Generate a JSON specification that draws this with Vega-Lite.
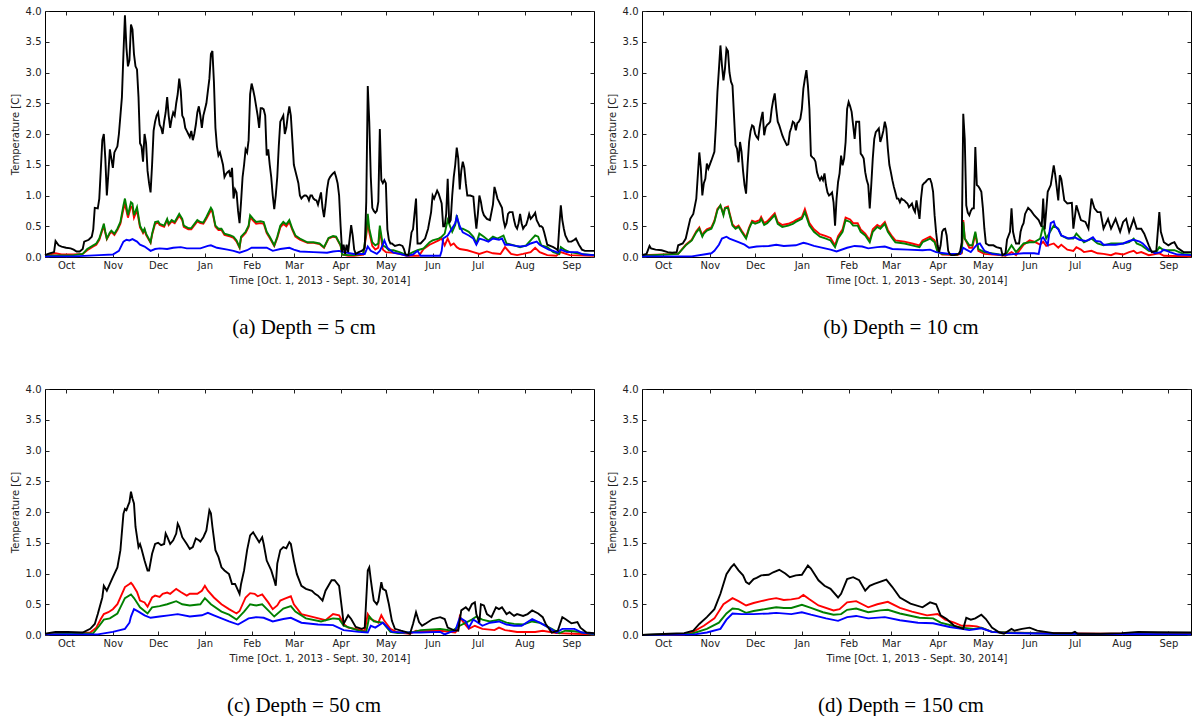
{
"$schema": "https://vega.github.io/schema/vega-lite/v6.json",
"background": "white",
"padding": {"left": 9, "top": 5, "right": 5, "bottom": 5},
"config": {
 "view": {"stroke": "black", "strokeWidth": 1},
 "axis": {"labelFont": "DejaVu Sans", "labelFontSize": 10, "titleFont": "DejaVu Sans", "titleFontSize": 10, "titleFontWeight": "normal", "labelColor": "#222222", "titleColor": "#222222", "domain": false, "grid": false, "tickColor": "#222222", "tickSize": -4},
 "title": {"font": "Liberation Serif", "fontSize": 21, "fontWeight": "normal", "color": "black", "orient": "bottom", "anchor": "middle", "frame": "bounds", "offset": 32},
 "line": {"strokeWidth": 1.9}
},
"datasets": {
"a_k": [{"t":"2013-10-01","v":0.03},{"t":"2013-10-04","v":0.06},{"t":"2013-10-07","v":0.08},{"t":"2013-10-08","v":0.26},{"t":"2013-10-10","v":0.19},{"t":"2013-10-12","v":0.17},{"t":"2013-10-15","v":0.15},{"t":"2013-10-18","v":0.14},{"t":"2013-10-20","v":0.12},{"t":"2013-10-22","v":0.09},{"t":"2013-10-24","v":0.09},{"t":"2013-10-26","v":0.13},{"t":"2013-10-27","v":0.25},{"t":"2013-10-30","v":0.28},{"t":"2013-11-01","v":0.33},{"t":"2013-11-02","v":0.45},{"t":"2013-11-03","v":0.8},{"t":"2013-11-05","v":0.79},{"t":"2013-11-06","v":0.95},{"t":"2013-11-08","v":1.9},{"t":"2013-11-09","v":2.0},{"t":"2013-11-10","v":1.6},{"t":"2013-11-11","v":1.0},{"t":"2013-11-12","v":1.35},{"t":"2013-11-13","v":1.75},{"t":"2013-11-14","v":1.6},{"t":"2013-11-15","v":1.45},{"t":"2013-11-16","v":1.7},{"t":"2013-11-18","v":1.8},{"t":"2013-11-19","v":2.0},{"t":"2013-11-20","v":2.3},{"t":"2013-11-21","v":2.6},{"t":"2013-11-22","v":3.3},{"t":"2013-11-23","v":3.93},{"t":"2013-11-24","v":3.4},{"t":"2013-11-25","v":3.1},{"t":"2013-11-26","v":3.2},{"t":"2013-11-27","v":3.78},{"t":"2013-11-28","v":3.7},{"t":"2013-11-29","v":3.3},{"t":"2013-11-30","v":3.1},{"t":"2013-12-01","v":3.05},{"t":"2013-12-02","v":2.6},{"t":"2013-12-03","v":1.85},{"t":"2013-12-04","v":1.8},{"t":"2013-12-05","v":1.55},{"t":"2013-12-06","v":2.0},{"t":"2013-12-07","v":1.85},{"t":"2013-12-08","v":1.4},{"t":"2013-12-09","v":1.2},{"t":"2013-12-10","v":1.05},{"t":"2013-12-11","v":1.5},{"t":"2013-12-12","v":2.05},{"t":"2013-12-13","v":2.2},{"t":"2013-12-14","v":2.3},{"t":"2013-12-15","v":2.35},{"t":"2013-12-16","v":2.15},{"t":"2013-12-17","v":2.1},{"t":"2013-12-18","v":2.0},{"t":"2013-12-19","v":2.2},{"t":"2013-12-20","v":2.35},{"t":"2013-12-21","v":2.6},{"t":"2013-12-22","v":2.3},{"t":"2013-12-23","v":2.1},{"t":"2013-12-24","v":2.25},{"t":"2013-12-25","v":2.35},{"t":"2013-12-26","v":2.3},{"t":"2013-12-27","v":2.5},{"t":"2013-12-28","v":2.65},{"t":"2013-12-29","v":2.9},{"t":"2013-12-30","v":2.7},{"t":"2013-12-31","v":2.3},{"t":"2014-01-01","v":2.25},{"t":"2014-01-02","v":2.1},{"t":"2014-01-03","v":2.05},{"t":"2014-01-04","v":2.0},{"t":"2014-01-05","v":1.95},{"t":"2014-01-06","v":2.05},{"t":"2014-01-07","v":1.9},{"t":"2014-01-08","v":2.0},{"t":"2014-01-09","v":2.15},{"t":"2014-01-10","v":2.35},{"t":"2014-01-11","v":2.45},{"t":"2014-01-12","v":2.3},{"t":"2014-01-13","v":2.1},{"t":"2014-01-14","v":2.3},{"t":"2014-01-15","v":2.4},{"t":"2014-01-16","v":2.5},{"t":"2014-01-17","v":2.7},{"t":"2014-01-18","v":2.9},{"t":"2014-01-19","v":3.3},{"t":"2014-01-20","v":3.35},{"t":"2014-01-21","v":2.85},{"t":"2014-01-22","v":2.1},{"t":"2014-01-23","v":1.8},{"t":"2014-01-24","v":1.65},{"t":"2014-01-25","v":1.7},{"t":"2014-01-26","v":1.6},{"t":"2014-01-27","v":1.5},{"t":"2014-01-28","v":1.3},{"t":"2014-01-29","v":1.35},{"t":"2014-01-30","v":1.38},{"t":"2014-01-31","v":1.4},{"t":"2014-02-01","v":1.3},{"t":"2014-02-02","v":1.45},{"t":"2014-02-03","v":0.95},{"t":"2014-02-04","v":1.1},{"t":"2014-02-05","v":1.05},{"t":"2014-02-06","v":0.75},{"t":"2014-02-07","v":0.55},{"t":"2014-02-08","v":0.9},{"t":"2014-02-09","v":1.3},{"t":"2014-02-10","v":1.5},{"t":"2014-02-11","v":1.75},{"t":"2014-02-12","v":1.7},{"t":"2014-02-13","v":1.9},{"t":"2014-02-14","v":2.65},{"t":"2014-02-15","v":2.82},{"t":"2014-02-16","v":2.72},{"t":"2014-02-17","v":2.6},{"t":"2014-02-18","v":2.45},{"t":"2014-02-19","v":2.3},{"t":"2014-02-20","v":2.1},{"t":"2014-02-21","v":2.42},{"t":"2014-02-22","v":2.42},{"t":"2014-02-23","v":2.4},{"t":"2014-02-24","v":2.3},{"t":"2014-02-25","v":1.65},{"t":"2014-02-26","v":1.75},{"t":"2014-02-27","v":1.5},{"t":"2014-02-28","v":1.3},{"t":"2014-03-01","v":1.0},{"t":"2014-03-02","v":0.78},{"t":"2014-03-03","v":1.0},{"t":"2014-03-04","v":1.3},{"t":"2014-03-05","v":1.8},{"t":"2014-03-06","v":2.2},{"t":"2014-03-07","v":2.25},{"t":"2014-03-08","v":2.3},{"t":"2014-03-09","v":2.0},{"t":"2014-03-10","v":2.1},{"t":"2014-03-11","v":2.3},{"t":"2014-03-12","v":2.45},{"t":"2014-03-13","v":2.3},{"t":"2014-03-14","v":1.9},{"t":"2014-03-15","v":1.5},{"t":"2014-03-16","v":1.4},{"t":"2014-03-17","v":1.3},{"t":"2014-03-18","v":1.2},{"t":"2014-03-19","v":1.0},{"t":"2014-03-20","v":0.95},{"t":"2014-03-21","v":0.98},{"t":"2014-03-22","v":1.0},{"t":"2014-03-23","v":1.0},{"t":"2014-03-24","v":0.98},{"t":"2014-03-25","v":0.92},{"t":"2014-03-26","v":1.0},{"t":"2014-03-27","v":1.0},{"t":"2014-03-28","v":0.95},{"t":"2014-03-29","v":0.93},{"t":"2014-03-30","v":0.92},{"t":"2014-03-31","v":0.85},{"t":"2014-04-01","v":0.95},{"t":"2014-04-02","v":1.05},{"t":"2014-04-03","v":0.8},{"t":"2014-04-04","v":0.65},{"t":"2014-04-05","v":0.85},{"t":"2014-04-06","v":1.1},{"t":"2014-04-07","v":1.25},{"t":"2014-04-08","v":1.3},{"t":"2014-04-09","v":1.33},{"t":"2014-04-10","v":1.36},{"t":"2014-04-11","v":1.38},{"t":"2014-04-12","v":1.3},{"t":"2014-04-13","v":1.2},{"t":"2014-04-14","v":1.0},{"t":"2014-04-15","v":0.5},{"t":"2014-04-16","v":0.08},{"t":"2014-04-17","v":0.2},{"t":"2014-04-18","v":0.05},{"t":"2014-04-19","v":0.2},{"t":"2014-04-20","v":0.08},{"t":"2014-04-21","v":0.3},{"t":"2014-04-22","v":0.52},{"t":"2014-04-23","v":0.35},{"t":"2014-04-24","v":0.12},{"t":"2014-04-25","v":0.05},{"t":"2014-04-27","v":0.08},{"t":"2014-04-29","v":0.1},{"t":"2014-04-30","v":0.12},{"t":"2014-05-01","v":0.15},{"t":"2014-05-02","v":0.9},{"t":"2014-05-03","v":2.78},{"t":"2014-05-04","v":2.2},{"t":"2014-05-05","v":1.3},{"t":"2014-05-06","v":0.8},{"t":"2014-05-07","v":0.75},{"t":"2014-05-08","v":0.72},{"t":"2014-05-09","v":0.75},{"t":"2014-05-10","v":0.9},{"t":"2014-05-11","v":2.08},{"t":"2014-05-12","v":1.25},{"t":"2014-05-13","v":1.2},{"t":"2014-05-14","v":1.25},{"t":"2014-05-15","v":1.2},{"t":"2014-05-16","v":0.45},{"t":"2014-05-17","v":0.28},{"t":"2014-05-18","v":0.22},{"t":"2014-05-19","v":0.22},{"t":"2014-05-21","v":0.18},{"t":"2014-05-24","v":0.2},{"t":"2014-05-26","v":0.18},{"t":"2014-05-27","v":0.13},{"t":"2014-05-28","v":0.04},{"t":"2014-05-30","v":0.03},{"t":"2014-05-31","v":0.2},{"t":"2014-06-01","v":0.4},{"t":"2014-06-02","v":0.45},{"t":"2014-06-03","v":0.7},{"t":"2014-06-04","v":0.95},{"t":"2014-06-05","v":0.22},{"t":"2014-06-07","v":0.22},{"t":"2014-06-10","v":0.3},{"t":"2014-06-12","v":0.46},{"t":"2014-06-14","v":0.73},{"t":"2014-06-15","v":1.0},{"t":"2014-06-16","v":0.95},{"t":"2014-06-18","v":1.08},{"t":"2014-06-19","v":1.03},{"t":"2014-06-20","v":0.95},{"t":"2014-06-21","v":0.87},{"t":"2014-06-22","v":0.5},{"t":"2014-06-23","v":0.5},{"t":"2014-06-24","v":0.7},{"t":"2014-06-25","v":1.27},{"t":"2014-06-26","v":0.55},{"t":"2014-06-27","v":0.6},{"t":"2014-06-28","v":1.0},{"t":"2014-06-29","v":1.3},{"t":"2014-06-30","v":1.5},{"t":"2014-07-01","v":1.78},{"t":"2014-07-02","v":1.6},{"t":"2014-07-03","v":1.1},{"t":"2014-07-04","v":1.4},{"t":"2014-07-05","v":1.55},{"t":"2014-07-06","v":1.45},{"t":"2014-07-07","v":1.2},{"t":"2014-07-08","v":1.0},{"t":"2014-07-10","v":1.0},{"t":"2014-07-12","v":0.98},{"t":"2014-07-13","v":0.7},{"t":"2014-07-14","v":0.46},{"t":"2014-07-15","v":0.7},{"t":"2014-07-16","v":1.0},{"t":"2014-07-17","v":0.9},{"t":"2014-07-18","v":0.75},{"t":"2014-07-19","v":0.68},{"t":"2014-07-21","v":0.62},{"t":"2014-07-23","v":0.6},{"t":"2014-07-25","v":0.85},{"t":"2014-07-26","v":1.14},{"t":"2014-07-27","v":1.05},{"t":"2014-07-28","v":0.95},{"t":"2014-07-29","v":0.9},{"t":"2014-07-30","v":0.85},{"t":"2014-07-31","v":0.8},{"t":"2014-08-01","v":0.6},{"t":"2014-08-02","v":0.49},{"t":"2014-08-03","v":0.55},{"t":"2014-08-04","v":0.7},{"t":"2014-08-05","v":0.73},{"t":"2014-08-07","v":0.73},{"t":"2014-08-08","v":0.6},{"t":"2014-08-09","v":0.5},{"t":"2014-08-10","v":0.46},{"t":"2014-08-11","v":0.55},{"t":"2014-08-12","v":0.7},{"t":"2014-08-13","v":0.55},{"t":"2014-08-14","v":0.46},{"t":"2014-08-15","v":0.5},{"t":"2014-08-16","v":0.52},{"t":"2014-08-17","v":0.6},{"t":"2014-08-18","v":0.7},{"t":"2014-08-19","v":0.62},{"t":"2014-08-20","v":0.65},{"t":"2014-08-21","v":0.68},{"t":"2014-08-22","v":0.72},{"t":"2014-08-23","v":0.6},{"t":"2014-08-24","v":0.55},{"t":"2014-08-25","v":0.5},{"t":"2014-08-26","v":0.5},{"t":"2014-08-27","v":0.48},{"t":"2014-08-28","v":0.4},{"t":"2014-08-29","v":0.3},{"t":"2014-08-30","v":0.2},{"t":"2014-09-01","v":0.18},{"t":"2014-09-03","v":0.16},{"t":"2014-09-05","v":0.13},{"t":"2014-09-06","v":0.11},{"t":"2014-09-07","v":0.5},{"t":"2014-09-08","v":0.84},{"t":"2014-09-09","v":0.6},{"t":"2014-09-10","v":0.46},{"t":"2014-09-11","v":0.35},{"t":"2014-09-13","v":0.25},{"t":"2014-09-15","v":0.25},{"t":"2014-09-17","v":0.28},{"t":"2014-09-18","v":0.3},{"t":"2014-09-20","v":0.2},{"t":"2014-09-22","v":0.12},{"t":"2014-09-24","v":0.1},{"t":"2014-09-30","v":0.1}],
"a_r": [{"t":"2013-10-01","v":0.03},{"t":"2013-10-08","v":0.06},{"t":"2013-10-12","v":0.04},{"t":"2013-10-20","v":0.04},{"t":"2013-10-26","v":0.05},{"t":"2013-10-29","v":0.11},{"t":"2013-11-02","v":0.17},{"t":"2013-11-04","v":0.2},{"t":"2013-11-06","v":0.28},{"t":"2013-11-08","v":0.43},{"t":"2013-11-09","v":0.5},{"t":"2013-11-10","v":0.39},{"t":"2013-11-11","v":0.29},{"t":"2013-11-13","v":0.38},{"t":"2013-11-14","v":0.41},{"t":"2013-11-16","v":0.36},{"t":"2013-11-18","v":0.44},{"t":"2013-11-20","v":0.54},{"t":"2013-11-22","v":0.78},{"t":"2013-11-23","v":0.86},{"t":"2013-11-25","v":0.64},{"t":"2013-11-27","v":0.82},{"t":"2013-11-28","v":0.8},{"t":"2013-11-29","v":0.64},{"t":"2013-12-01","v":0.76},{"t":"2013-12-03","v":0.48},{"t":"2013-12-04","v":0.44},{"t":"2013-12-05","v":0.39},{"t":"2013-12-06","v":0.44},{"t":"2013-12-07","v":0.36},{"t":"2013-12-10","v":0.23},{"t":"2013-12-11","v":0.36},{"t":"2013-12-13","v":0.54},{"t":"2013-12-15","v":0.56},{"t":"2013-12-16","v":0.52},{"t":"2013-12-19","v":0.49},{"t":"2013-12-21","v":0.6},{"t":"2013-12-22","v":0.52},{"t":"2013-12-24","v":0.58},{"t":"2013-12-26","v":0.55},{"t":"2013-12-29","v":0.67},{"t":"2013-12-31","v":0.6},{"t":"2014-01-01","v":0.49},{"t":"2014-01-04","v":0.45},{"t":"2014-01-06","v":0.45},{"t":"2014-01-10","v":0.58},{"t":"2014-01-12","v":0.55},{"t":"2014-01-14","v":0.54},{"t":"2014-01-16","v":0.62},{"t":"2014-01-19","v":0.76},{"t":"2014-01-20","v":0.73},{"t":"2014-01-22","v":0.49},{"t":"2014-01-24","v":0.44},{"t":"2014-01-26","v":0.44},{"t":"2014-01-28","v":0.36},{"t":"2014-02-01","v":0.33},{"t":"2014-02-03","v":0.31},{"t":"2014-02-05","v":0.25},{"t":"2014-02-07","v":0.15},{"t":"2014-02-08","v":0.31},{"t":"2014-02-11","v":0.39},{"t":"2014-02-13","v":0.49},{"t":"2014-02-14","v":0.65},{"t":"2014-02-16","v":0.59},{"t":"2014-02-18","v":0.54},{"t":"2014-02-21","v":0.55},{"t":"2014-02-23","v":0.54},{"t":"2014-02-25","v":0.39},{"t":"2014-02-27","v":0.31},{"t":"2014-03-02","v":0.18},{"t":"2014-03-04","v":0.31},{"t":"2014-03-06","v":0.48},{"t":"2014-03-08","v":0.54},{"t":"2014-03-10","v":0.5},{"t":"2014-03-12","v":0.57},{"t":"2014-03-14","v":0.44},{"t":"2014-03-16","v":0.33},{"t":"2014-03-19","v":0.28},{"t":"2014-03-24","v":0.23},{"t":"2014-03-28","v":0.23},{"t":"2014-04-01","v":0.21},{"t":"2014-04-04","v":0.15},{"t":"2014-04-07","v":0.3},{"t":"2014-04-10","v":0.33},{"t":"2014-04-12","v":0.32},{"t":"2014-04-15","v":0.18},{"t":"2014-04-16","v":0.04},{"t":"2014-04-20","v":0.02},{"t":"2014-04-24","v":0.02},{"t":"2014-04-30","v":0.04},{"t":"2014-05-02","v":0.35},{"t":"2014-05-03","v":0.58},{"t":"2014-05-04","v":0.4},{"t":"2014-05-06","v":0.18},{"t":"2014-05-08","v":0.12},{"t":"2014-05-10","v":0.15},{"t":"2014-05-11","v":0.45},{"t":"2014-05-13","v":0.12},{"t":"2014-05-15","v":0.08},{"t":"2014-05-20","v":0.07},{"t":"2014-05-24","v":0.05},{"t":"2014-05-29","v":0.02},{"t":"2014-06-02","v":0.02},{"t":"2014-06-06","v":0.02},{"t":"2014-06-09","v":0.13},{"t":"2014-06-13","v":0.2},{"t":"2014-06-19","v":0.27},{"t":"2014-06-21","v":0.3},{"t":"2014-06-23","v":0.19},{"t":"2014-06-25","v":0.3},{"t":"2014-06-27","v":0.19},{"t":"2014-06-29","v":0.22},{"t":"2014-07-01","v":0.16},{"t":"2014-07-03","v":0.13},{"t":"2014-07-08","v":0.11},{"t":"2014-07-12","v":0.08},{"t":"2014-07-16","v":0.05},{"t":"2014-07-21","v":0.09},{"t":"2014-07-25","v":0.06},{"t":"2014-07-30","v":0.05},{"t":"2014-08-02","v":0.16},{"t":"2014-08-06","v":0.05},{"t":"2014-08-10","v":0.03},{"t":"2014-08-14","v":0.05},{"t":"2014-08-19","v":0.08},{"t":"2014-08-22","v":0.15},{"t":"2014-08-25","v":0.08},{"t":"2014-08-30","v":0.03},{"t":"2014-09-05","v":0.02},{"t":"2014-09-08","v":0.08},{"t":"2014-09-14","v":0.03},{"t":"2014-09-30","v":0.02}],
"a_g": [{"t":"2013-10-01","v":0.02},{"t":"2013-10-20","v":0.03},{"t":"2013-10-26","v":0.05},{"t":"2013-10-29","v":0.13},{"t":"2013-11-02","v":0.19},{"t":"2013-11-04","v":0.22},{"t":"2013-11-06","v":0.3},{"t":"2013-11-08","v":0.46},{"t":"2013-11-09","v":0.54},{"t":"2013-11-10","v":0.41},{"t":"2013-11-11","v":0.3},{"t":"2013-11-13","v":0.4},{"t":"2013-11-14","v":0.43},{"t":"2013-11-16","v":0.38},{"t":"2013-11-18","v":0.46},{"t":"2013-11-20","v":0.57},{"t":"2013-11-22","v":0.84},{"t":"2013-11-23","v":0.95},{"t":"2013-11-25","v":0.68},{"t":"2013-11-27","v":0.89},{"t":"2013-11-28","v":0.87},{"t":"2013-11-29","v":0.68},{"t":"2013-12-01","v":0.81},{"t":"2013-12-03","v":0.51},{"t":"2013-12-04","v":0.46},{"t":"2013-12-05","v":0.41},{"t":"2013-12-06","v":0.46},{"t":"2013-12-07","v":0.38},{"t":"2013-12-10","v":0.24},{"t":"2013-12-11","v":0.38},{"t":"2013-12-13","v":0.57},{"t":"2013-12-15","v":0.58},{"t":"2013-12-16","v":0.54},{"t":"2013-12-19","v":0.51},{"t":"2013-12-21","v":0.62},{"t":"2013-12-22","v":0.54},{"t":"2013-12-24","v":0.6},{"t":"2013-12-26","v":0.57},{"t":"2013-12-29","v":0.7},{"t":"2013-12-31","v":0.62},{"t":"2014-01-01","v":0.51},{"t":"2014-01-04","v":0.47},{"t":"2014-01-06","v":0.47},{"t":"2014-01-10","v":0.6},{"t":"2014-01-12","v":0.57},{"t":"2014-01-14","v":0.56},{"t":"2014-01-16","v":0.65},{"t":"2014-01-19","v":0.8},{"t":"2014-01-20","v":0.76},{"t":"2014-01-22","v":0.51},{"t":"2014-01-24","v":0.46},{"t":"2014-01-26","v":0.46},{"t":"2014-01-28","v":0.38},{"t":"2014-02-01","v":0.35},{"t":"2014-02-03","v":0.33},{"t":"2014-02-05","v":0.27},{"t":"2014-02-07","v":0.16},{"t":"2014-02-08","v":0.33},{"t":"2014-02-11","v":0.41},{"t":"2014-02-13","v":0.51},{"t":"2014-02-14","v":0.68},{"t":"2014-02-16","v":0.62},{"t":"2014-02-18","v":0.57},{"t":"2014-02-21","v":0.58},{"t":"2014-02-23","v":0.57},{"t":"2014-02-25","v":0.41},{"t":"2014-02-27","v":0.33},{"t":"2014-03-02","v":0.19},{"t":"2014-03-04","v":0.33},{"t":"2014-03-06","v":0.51},{"t":"2014-03-08","v":0.57},{"t":"2014-03-10","v":0.53},{"t":"2014-03-12","v":0.6},{"t":"2014-03-14","v":0.46},{"t":"2014-03-16","v":0.35},{"t":"2014-03-19","v":0.3},{"t":"2014-03-24","v":0.24},{"t":"2014-03-28","v":0.24},{"t":"2014-04-01","v":0.22},{"t":"2014-04-04","v":0.16},{"t":"2014-04-07","v":0.31},{"t":"2014-04-10","v":0.34},{"t":"2014-04-12","v":0.33},{"t":"2014-04-15","v":0.19},{"t":"2014-04-16","v":0.04},{"t":"2014-04-20","v":0.03},{"t":"2014-04-24","v":0.03},{"t":"2014-04-30","v":0.05},{"t":"2014-05-02","v":0.41},{"t":"2014-05-03","v":0.7},{"t":"2014-05-04","v":0.46},{"t":"2014-05-06","v":0.24},{"t":"2014-05-08","v":0.19},{"t":"2014-05-10","v":0.22},{"t":"2014-05-11","v":0.51},{"t":"2014-05-13","v":0.19},{"t":"2014-05-15","v":0.16},{"t":"2014-05-17","v":0.11},{"t":"2014-05-20","v":0.11},{"t":"2014-05-24","v":0.08},{"t":"2014-05-29","v":0.03},{"t":"2014-06-02","v":0.08},{"t":"2014-06-05","v":0.11},{"t":"2014-06-09","v":0.14},{"t":"2014-06-13","v":0.24},{"t":"2014-06-15","v":0.27},{"t":"2014-06-19","v":0.3},{"t":"2014-06-21","v":0.33},{"t":"2014-06-23","v":0.38},{"t":"2014-06-25","v":0.6},{"t":"2014-06-28","v":0.41},{"t":"2014-06-30","v":0.52},{"t":"2014-07-01","v":0.68},{"t":"2014-07-03","v":0.46},{"t":"2014-07-05","v":0.46},{"t":"2014-07-09","v":0.41},{"t":"2014-07-12","v":0.33},{"t":"2014-07-14","v":0.22},{"t":"2014-07-16","v":0.38},{"t":"2014-07-19","v":0.33},{"t":"2014-07-22","v":0.27},{"t":"2014-07-25","v":0.33},{"t":"2014-07-28","v":0.3},{"t":"2014-08-01","v":0.35},{"t":"2014-08-03","v":0.22},{"t":"2014-08-08","v":0.19},{"t":"2014-08-12","v":0.16},{"t":"2014-08-16","v":0.19},{"t":"2014-08-20","v":0.3},{"t":"2014-08-22","v":0.35},{"t":"2014-08-24","v":0.33},{"t":"2014-08-26","v":0.19},{"t":"2014-08-30","v":0.16},{"t":"2014-09-03","v":0.08},{"t":"2014-09-07","v":0.05},{"t":"2014-09-08","v":0.16},{"t":"2014-09-11","v":0.11},{"t":"2014-09-14","v":0.08},{"t":"2014-09-21","v":0.05},{"t":"2014-09-30","v":0.03}],
"a_b": [{"t":"2013-10-01","v":0.01},{"t":"2013-10-20","v":0.01},{"t":"2013-11-06","v":0.03},{"t":"2013-11-15","v":0.04},{"t":"2013-11-19","v":0.1},{"t":"2013-11-22","v":0.25},{"t":"2013-11-24","v":0.28},{"t":"2013-11-26","v":0.27},{"t":"2013-11-28","v":0.29},{"t":"2013-12-01","v":0.25},{"t":"2013-12-03","v":0.2},{"t":"2013-12-06","v":0.17},{"t":"2013-12-10","v":0.1},{"t":"2013-12-13","v":0.13},{"t":"2013-12-16","v":0.14},{"t":"2013-12-21","v":0.13},{"t":"2013-12-25","v":0.15},{"t":"2013-12-30","v":0.16},{"t":"2014-01-03","v":0.14},{"t":"2014-01-12","v":0.14},{"t":"2014-01-17","v":0.18},{"t":"2014-01-19","v":0.19},{"t":"2014-01-23","v":0.15},{"t":"2014-01-30","v":0.12},{"t":"2014-02-03","v":0.1},{"t":"2014-02-07","v":0.07},{"t":"2014-02-12","v":0.11},{"t":"2014-02-15","v":0.15},{"t":"2014-02-21","v":0.15},{"t":"2014-02-25","v":0.15},{"t":"2014-03-01","v":0.1},{"t":"2014-03-06","v":0.13},{"t":"2014-03-12","v":0.15},{"t":"2014-03-15","v":0.12},{"t":"2014-03-19","v":0.09},{"t":"2014-03-28","v":0.08},{"t":"2014-04-06","v":0.07},{"t":"2014-04-10","v":0.09},{"t":"2014-04-14","v":0.1},{"t":"2014-04-17","v":0.08},{"t":"2014-04-24","v":0.05},{"t":"2014-05-01","v":0.05},{"t":"2014-05-03","v":0.17},{"t":"2014-05-05","v":0.1},{"t":"2014-05-09","v":0.05},{"t":"2014-05-11","v":0.1},{"t":"2014-05-13","v":0.2},{"t":"2014-05-14","v":0.27},{"t":"2014-05-16","v":0.15},{"t":"2014-05-20","v":0.07},{"t":"2014-05-24","v":0.05},{"t":"2014-05-29","v":0.02},{"t":"2014-06-02","v":0.04},{"t":"2014-06-05","v":0.1},{"t":"2014-06-07","v":0.02},{"t":"2014-06-13","v":0.02},{"t":"2014-06-20","v":0.02},{"t":"2014-06-21","v":0.1},{"t":"2014-06-22","v":0.3},{"t":"2014-06-25","v":0.35},{"t":"2014-06-30","v":0.55},{"t":"2014-07-01","v":0.65},{"t":"2014-07-03","v":0.5},{"t":"2014-07-05","v":0.4},{"t":"2014-07-09","v":0.35},{"t":"2014-07-12","v":0.3},{"t":"2014-07-14","v":0.2},{"t":"2014-07-16","v":0.3},{"t":"2014-07-19","v":0.28},{"t":"2014-07-22","v":0.25},{"t":"2014-07-25","v":0.3},{"t":"2014-07-29","v":0.28},{"t":"2014-07-31","v":0.3},{"t":"2014-08-02","v":0.2},{"t":"2014-08-05","v":0.2},{"t":"2014-08-09","v":0.18},{"t":"2014-08-12","v":0.17},{"t":"2014-08-16","v":0.18},{"t":"2014-08-19","v":0.22},{"t":"2014-08-23","v":0.25},{"t":"2014-08-25","v":0.2},{"t":"2014-08-27","v":0.17},{"t":"2014-08-31","v":0.12},{"t":"2014-09-03","v":0.1},{"t":"2014-09-06","v":0.07},{"t":"2014-09-08","v":0.12},{"t":"2014-09-12","v":0.08},{"t":"2014-09-19","v":0.08},{"t":"2014-09-23","v":0.04},{"t":"2014-09-30","v":0.03}],
"b_k": [{"t":"2013-10-01","v":0.03},{"t":"2013-10-04","v":0.05},{"t":"2013-10-06","v":0.18},{"t":"2013-10-07","v":0.14},{"t":"2013-10-10","v":0.12},{"t":"2013-10-14","v":0.11},{"t":"2013-10-18","v":0.08},{"t":"2013-10-21","v":0.07},{"t":"2013-10-24","v":0.08},{"t":"2013-10-25","v":0.19},{"t":"2013-10-28","v":0.22},{"t":"2013-10-30","v":0.3},{"t":"2013-11-02","v":0.62},{"t":"2013-11-04","v":0.7},{"t":"2013-11-06","v":0.95},{"t":"2013-11-08","v":1.7},{"t":"2013-11-09","v":1.45},{"t":"2013-11-10","v":1.0},{"t":"2013-11-11","v":1.2},{"t":"2013-11-12","v":1.27},{"t":"2013-11-13","v":1.52},{"t":"2013-11-14","v":1.44},{"t":"2013-11-16","v":1.57},{"t":"2013-11-18","v":1.71},{"t":"2013-11-19","v":2.14},{"t":"2013-11-20","v":2.68},{"t":"2013-11-21","v":3.05},{"t":"2013-11-22","v":3.44},{"t":"2013-11-23","v":3.12},{"t":"2013-11-24","v":2.87},{"t":"2013-11-25","v":3.06},{"t":"2013-11-26","v":3.39},{"t":"2013-11-27","v":3.35},{"t":"2013-11-28","v":3.0},{"t":"2013-11-29","v":2.85},{"t":"2013-11-30","v":2.79},{"t":"2013-12-01","v":2.3},{"t":"2013-12-02","v":1.82},{"t":"2013-12-03","v":1.76},{"t":"2013-12-04","v":1.54},{"t":"2013-12-05","v":1.87},{"t":"2013-12-06","v":1.71},{"t":"2013-12-07","v":1.4},{"t":"2013-12-08","v":1.17},{"t":"2013-12-09","v":1.03},{"t":"2013-12-10","v":1.49},{"t":"2013-12-11","v":1.87},{"t":"2013-12-12","v":2.05},{"t":"2013-12-13","v":2.14},{"t":"2013-12-14","v":2.12},{"t":"2013-12-15","v":2.0},{"t":"2013-12-16","v":1.95},{"t":"2013-12-17","v":1.92},{"t":"2013-12-18","v":2.11},{"t":"2013-12-19","v":2.25},{"t":"2013-12-20","v":2.36},{"t":"2013-12-21","v":1.98},{"t":"2013-12-22","v":2.11},{"t":"2013-12-23","v":2.15},{"t":"2013-12-24","v":2.17},{"t":"2013-12-25","v":2.2},{"t":"2013-12-26","v":2.41},{"t":"2013-12-27","v":2.55},{"t":"2013-12-28","v":2.66},{"t":"2013-12-29","v":2.41},{"t":"2013-12-30","v":2.2},{"t":"2013-12-31","v":2.14},{"t":"2014-01-01","v":2.06},{"t":"2014-01-02","v":1.98},{"t":"2014-01-03","v":1.92},{"t":"2014-01-05","v":1.82},{"t":"2014-01-06","v":1.83},{"t":"2014-01-07","v":2.03},{"t":"2014-01-08","v":2.1},{"t":"2014-01-09","v":2.2},{"t":"2014-01-10","v":2.18},{"t":"2014-01-11","v":2.06},{"t":"2014-01-12","v":2.18},{"t":"2014-01-13","v":2.2},{"t":"2014-01-14","v":2.25},{"t":"2014-01-15","v":2.41},{"t":"2014-01-16","v":2.74},{"t":"2014-01-17","v":2.9},{"t":"2014-01-18","v":3.04},{"t":"2014-01-19","v":2.79},{"t":"2014-01-20","v":2.41},{"t":"2014-01-21","v":1.65},{"t":"2014-01-22","v":1.62},{"t":"2014-01-23","v":1.6},{"t":"2014-01-24","v":1.55},{"t":"2014-01-25","v":1.38},{"t":"2014-01-26","v":1.3},{"t":"2014-01-27","v":1.25},{"t":"2014-01-28","v":1.3},{"t":"2014-01-29","v":1.25},{"t":"2014-01-30","v":1.36},{"t":"2014-01-31","v":1.17},{"t":"2014-02-01","v":1.05},{"t":"2014-02-02","v":1.0},{"t":"2014-02-03","v":1.02},{"t":"2014-02-04","v":1.05},{"t":"2014-02-05","v":0.89},{"t":"2014-02-06","v":0.51},{"t":"2014-02-07","v":0.95},{"t":"2014-02-08","v":1.22},{"t":"2014-02-09","v":1.36},{"t":"2014-02-10","v":1.65},{"t":"2014-02-11","v":1.49},{"t":"2014-02-12","v":1.6},{"t":"2014-02-13","v":1.87},{"t":"2014-02-14","v":2.41},{"t":"2014-02-15","v":2.52},{"t":"2014-02-16","v":2.45},{"t":"2014-02-17","v":2.36},{"t":"2014-02-18","v":2.14},{"t":"2014-02-19","v":1.92},{"t":"2014-02-20","v":2.2},{"t":"2014-02-21","v":2.2},{"t":"2014-02-22","v":2.2},{"t":"2014-02-23","v":1.68},{"t":"2014-02-24","v":1.65},{"t":"2014-02-25","v":1.6},{"t":"2014-02-26","v":1.38},{"t":"2014-02-27","v":1.25},{"t":"2014-02-28","v":1.17},{"t":"2014-03-01","v":0.79},{"t":"2014-03-02","v":1.17},{"t":"2014-03-03","v":1.6},{"t":"2014-03-04","v":1.92},{"t":"2014-03-05","v":2.03},{"t":"2014-03-06","v":2.06},{"t":"2014-03-07","v":2.09},{"t":"2014-03-08","v":1.87},{"t":"2014-03-09","v":1.95},{"t":"2014-03-10","v":2.05},{"t":"2014-03-11","v":2.2},{"t":"2014-03-12","v":2.09},{"t":"2014-03-13","v":1.76},{"t":"2014-03-14","v":1.5},{"t":"2014-03-15","v":1.38},{"t":"2014-03-16","v":1.25},{"t":"2014-03-17","v":1.14},{"t":"2014-03-18","v":1.05},{"t":"2014-03-19","v":0.95},{"t":"2014-03-20","v":0.95},{"t":"2014-03-21","v":0.89},{"t":"2014-03-22","v":0.95},{"t":"2014-03-23","v":0.93},{"t":"2014-03-24","v":0.92},{"t":"2014-03-25","v":0.89},{"t":"2014-03-26","v":0.87},{"t":"2014-03-27","v":0.81},{"t":"2014-03-28","v":0.84},{"t":"2014-03-29","v":0.87},{"t":"2014-03-30","v":0.78},{"t":"2014-03-31","v":0.73},{"t":"2014-04-01","v":0.92},{"t":"2014-04-03","v":0.62},{"t":"2014-04-04","v":0.95},{"t":"2014-04-05","v":1.17},{"t":"2014-04-06","v":1.2},{"t":"2014-04-07","v":1.22},{"t":"2014-04-08","v":1.25},{"t":"2014-04-09","v":1.27},{"t":"2014-04-10","v":1.27},{"t":"2014-04-11","v":1.2},{"t":"2014-04-12","v":1.06},{"t":"2014-04-13","v":0.68},{"t":"2014-04-14","v":0.4},{"t":"2014-04-15","v":0.19},{"t":"2014-04-16","v":0.08},{"t":"2014-04-17","v":0.19},{"t":"2014-04-18","v":0.41},{"t":"2014-04-19","v":0.45},{"t":"2014-04-20","v":0.46},{"t":"2014-04-21","v":0.35},{"t":"2014-04-22","v":0.1},{"t":"2014-04-23","v":0.05},{"t":"2014-04-24","v":0.03},{"t":"2014-04-26","v":0.03},{"t":"2014-04-29","v":0.05},{"t":"2014-04-30","v":0.1},{"t":"2014-05-01","v":0.24},{"t":"2014-05-02","v":2.33},{"t":"2014-05-03","v":1.92},{"t":"2014-05-04","v":0.84},{"t":"2014-05-05","v":0.72},{"t":"2014-05-06","v":0.68},{"t":"2014-05-07","v":0.75},{"t":"2014-05-08","v":0.79},{"t":"2014-05-09","v":0.79},{"t":"2014-05-10","v":1.79},{"t":"2014-05-11","v":1.17},{"t":"2014-05-12","v":1.15},{"t":"2014-05-13","v":1.11},{"t":"2014-05-14","v":1.06},{"t":"2014-05-15","v":0.8},{"t":"2014-05-16","v":0.46},{"t":"2014-05-17","v":0.22},{"t":"2014-05-19","v":0.19},{"t":"2014-05-22","v":0.19},{"t":"2014-05-24","v":0.16},{"t":"2014-05-27","v":0.14},{"t":"2014-05-28","v":0.03},{"t":"2014-05-30","v":0.06},{"t":"2014-05-31","v":0.28},{"t":"2014-06-02","v":0.41},{"t":"2014-06-03","v":0.79},{"t":"2014-06-04","v":0.41},{"t":"2014-06-05","v":0.3},{"t":"2014-06-06","v":0.22},{"t":"2014-06-08","v":0.22},{"t":"2014-06-09","v":0.41},{"t":"2014-06-10","v":0.5},{"t":"2014-06-11","v":0.55},{"t":"2014-06-12","v":0.7},{"t":"2014-06-14","v":0.8},{"t":"2014-06-16","v":0.75},{"t":"2014-06-18","v":0.68},{"t":"2014-06-21","v":0.6},{"t":"2014-06-23","v":0.49},{"t":"2014-06-24","v":0.95},{"t":"2014-06-25","v":0.45},{"t":"2014-06-27","v":1.06},{"t":"2014-06-29","v":1.17},{"t":"2014-07-01","v":1.49},{"t":"2014-07-02","v":1.33},{"t":"2014-07-04","v":0.92},{"t":"2014-07-05","v":1.33},{"t":"2014-07-06","v":1.27},{"t":"2014-07-08","v":0.92},{"t":"2014-07-10","v":0.87},{"t":"2014-07-13","v":0.88},{"t":"2014-07-14","v":0.46},{"t":"2014-07-16","v":0.84},{"t":"2014-07-18","v":0.68},{"t":"2014-07-19","v":0.6},{"t":"2014-07-22","v":0.57},{"t":"2014-07-24","v":0.46},{"t":"2014-07-26","v":0.95},{"t":"2014-07-28","v":0.79},{"t":"2014-07-30","v":0.73},{"t":"2014-08-01","v":0.73},{"t":"2014-08-03","v":0.46},{"t":"2014-08-06","v":0.62},{"t":"2014-08-08","v":0.46},{"t":"2014-08-11","v":0.62},{"t":"2014-08-14","v":0.41},{"t":"2014-08-16","v":0.57},{"t":"2014-08-18","v":0.62},{"t":"2014-08-20","v":0.41},{"t":"2014-08-23","v":0.62},{"t":"2014-08-25","v":0.46},{"t":"2014-08-28","v":0.46},{"t":"2014-08-30","v":0.38},{"t":"2014-09-02","v":0.19},{"t":"2014-09-04","v":0.08},{"t":"2014-09-07","v":0.1},{"t":"2014-09-09","v":0.73},{"t":"2014-09-10","v":0.41},{"t":"2014-09-12","v":0.24},{"t":"2014-09-15","v":0.19},{"t":"2014-09-17","v":0.22},{"t":"2014-09-19","v":0.24},{"t":"2014-09-21","v":0.15},{"t":"2014-09-25","v":0.08},{"t":"2014-09-30","v":0.08}],
"b_r": [{"t":"2013-10-01","v":0.03},{"t":"2013-10-25","v":0.05},{"t":"2013-10-30","v":0.2},{"t":"2013-11-03","v":0.28},{"t":"2013-11-06","v":0.42},{"t":"2013-11-08","v":0.48},{"t":"2013-11-10","v":0.35},{"t":"2013-11-11","v":0.4},{"t":"2013-11-13","v":0.45},{"t":"2013-11-16","v":0.48},{"t":"2013-11-18","v":0.59},{"t":"2013-11-20","v":0.78},{"t":"2013-11-22","v":0.84},{"t":"2013-11-24","v":0.7},{"t":"2013-11-25","v":0.8},{"t":"2013-11-27","v":0.82},{"t":"2013-11-28","v":0.72},{"t":"2013-11-30","v":0.53},{"t":"2013-12-02","v":0.48},{"t":"2013-12-04","v":0.51},{"t":"2013-12-06","v":0.43},{"t":"2013-12-09","v":0.32},{"t":"2013-12-11","v":0.48},{"t":"2013-12-13","v":0.59},{"t":"2013-12-15","v":0.57},{"t":"2013-12-18","v":0.6},{"t":"2013-12-19","v":0.65},{"t":"2013-12-21","v":0.55},{"t":"2013-12-23","v":0.58},{"t":"2013-12-25","v":0.63},{"t":"2013-12-28","v":0.71},{"t":"2013-12-30","v":0.57},{"t":"2014-01-02","v":0.52},{"t":"2014-01-06","v":0.54},{"t":"2014-01-09","v":0.57},{"t":"2014-01-11","v":0.6},{"t":"2014-01-15","v":0.65},{"t":"2014-01-17","v":0.78},{"t":"2014-01-20","v":0.55},{"t":"2014-01-23","v":0.45},{"t":"2014-01-27","v":0.37},{"t":"2014-01-31","v":0.34},{"t":"2014-02-03","v":0.31},{"t":"2014-02-06","v":0.19},{"t":"2014-02-08","v":0.34},{"t":"2014-02-11","v":0.45},{"t":"2014-02-13","v":0.64},{"t":"2014-02-16","v":0.61},{"t":"2014-02-18","v":0.55},{"t":"2014-02-21","v":0.55},{"t":"2014-02-23","v":0.45},{"t":"2014-02-26","v":0.38},{"t":"2014-03-01","v":0.27},{"t":"2014-03-03","v":0.45},{"t":"2014-03-06","v":0.52},{"t":"2014-03-08","v":0.49},{"t":"2014-03-11","v":0.57},{"t":"2014-03-13","v":0.44},{"t":"2014-03-16","v":0.33},{"t":"2014-03-18","v":0.27},{"t":"2014-03-24","v":0.25},{"t":"2014-03-29","v":0.22},{"t":"2014-04-03","v":0.19},{"t":"2014-04-05","v":0.27},{"t":"2014-04-10","v":0.33},{"t":"2014-04-13","v":0.27},{"t":"2014-04-15","v":0.1},{"t":"2014-04-18","v":0.04},{"t":"2014-04-28","v":0.03},{"t":"2014-05-01","v":0.06},{"t":"2014-05-02","v":0.6},{"t":"2014-05-03","v":0.3},{"t":"2014-05-06","v":0.15},{"t":"2014-05-08","v":0.15},{"t":"2014-05-10","v":0.38},{"t":"2014-05-12","v":0.1},{"t":"2014-05-16","v":0.05},{"t":"2014-05-26","v":0.03},{"t":"2014-05-30","v":0.02},{"t":"2014-06-03","v":0.08},{"t":"2014-06-06","v":0.03},{"t":"2014-06-11","v":0.2},{"t":"2014-06-15","v":0.27},{"t":"2014-06-18","v":0.25},{"t":"2014-06-22","v":0.2},{"t":"2014-06-24","v":0.25},{"t":"2014-06-26","v":0.18},{"t":"2014-07-01","v":0.22},{"t":"2014-07-04","v":0.15},{"t":"2014-07-06","v":0.2},{"t":"2014-07-10","v":0.12},{"t":"2014-07-14","v":0.1},{"t":"2014-07-16","v":0.16},{"t":"2014-07-19","v":0.12},{"t":"2014-07-21","v":0.08},{"t":"2014-07-26","v":0.1},{"t":"2014-07-30","v":0.06},{"t":"2014-08-03","v":0.05},{"t":"2014-08-08","v":0.03},{"t":"2014-08-11","v":0.06},{"t":"2014-08-16","v":0.04},{"t":"2014-08-20","v":0.08},{"t":"2014-08-23","v":0.1},{"t":"2014-08-25","v":0.06},{"t":"2014-08-28","v":0.08},{"t":"2014-09-02","v":0.03},{"t":"2014-09-09","v":0.06},{"t":"2014-09-12","v":0.02},{"t":"2014-09-30","v":0.01}],
"b_g": [{"t":"2013-10-01","v":0.02},{"t":"2013-10-25","v":0.05},{"t":"2013-10-30","v":0.19},{"t":"2013-11-03","v":0.27},{"t":"2013-11-06","v":0.4},{"t":"2013-11-08","v":0.46},{"t":"2013-11-10","v":0.33},{"t":"2013-11-11","v":0.38},{"t":"2013-11-13","v":0.43},{"t":"2013-11-16","v":0.46},{"t":"2013-11-18","v":0.57},{"t":"2013-11-20","v":0.76},{"t":"2013-11-22","v":0.84},{"t":"2013-11-24","v":0.68},{"t":"2013-11-25","v":0.79},{"t":"2013-11-27","v":0.8},{"t":"2013-11-28","v":0.7},{"t":"2013-11-30","v":0.51},{"t":"2013-12-02","v":0.46},{"t":"2013-12-04","v":0.49},{"t":"2013-12-06","v":0.41},{"t":"2013-12-09","v":0.3},{"t":"2013-12-11","v":0.46},{"t":"2013-12-13","v":0.57},{"t":"2013-12-15","v":0.54},{"t":"2013-12-18","v":0.57},{"t":"2013-12-19","v":0.62},{"t":"2013-12-21","v":0.52},{"t":"2013-12-23","v":0.55},{"t":"2013-12-25","v":0.6},{"t":"2013-12-28","v":0.68},{"t":"2013-12-30","v":0.54},{"t":"2014-01-02","v":0.49},{"t":"2014-01-06","v":0.51},{"t":"2014-01-09","v":0.54},{"t":"2014-01-11","v":0.57},{"t":"2014-01-15","v":0.62},{"t":"2014-01-17","v":0.73},{"t":"2014-01-20","v":0.51},{"t":"2014-01-23","v":0.41},{"t":"2014-01-27","v":0.33},{"t":"2014-01-31","v":0.3},{"t":"2014-02-03","v":0.27},{"t":"2014-02-06","v":0.16},{"t":"2014-02-08","v":0.3},{"t":"2014-02-11","v":0.41},{"t":"2014-02-13","v":0.6},{"t":"2014-02-16","v":0.57},{"t":"2014-02-18","v":0.51},{"t":"2014-02-21","v":0.51},{"t":"2014-02-23","v":0.41},{"t":"2014-02-26","v":0.35},{"t":"2014-03-01","v":0.24},{"t":"2014-03-03","v":0.41},{"t":"2014-03-06","v":0.49},{"t":"2014-03-08","v":0.46},{"t":"2014-03-11","v":0.54},{"t":"2014-03-13","v":0.41},{"t":"2014-03-16","v":0.3},{"t":"2014-03-18","v":0.24},{"t":"2014-03-24","v":0.22},{"t":"2014-03-29","v":0.19},{"t":"2014-04-03","v":0.16},{"t":"2014-04-05","v":0.24},{"t":"2014-04-10","v":0.3},{"t":"2014-04-13","v":0.24},{"t":"2014-04-15","v":0.08},{"t":"2014-04-18","v":0.05},{"t":"2014-04-28","v":0.04},{"t":"2014-05-01","v":0.08},{"t":"2014-05-02","v":0.57},{"t":"2014-05-03","v":0.3},{"t":"2014-05-06","v":0.19},{"t":"2014-05-08","v":0.19},{"t":"2014-05-10","v":0.41},{"t":"2014-05-12","v":0.13},{"t":"2014-05-16","v":0.08},{"t":"2014-05-26","v":0.04},{"t":"2014-05-30","v":0.03},{"t":"2014-06-03","v":0.19},{"t":"2014-06-06","v":0.08},{"t":"2014-06-11","v":0.22},{"t":"2014-06-15","v":0.24},{"t":"2014-06-18","v":0.24},{"t":"2014-06-22","v":0.3},{"t":"2014-06-24","v":0.51},{"t":"2014-06-26","v":0.3},{"t":"2014-07-01","v":0.51},{"t":"2014-07-04","v":0.46},{"t":"2014-07-06","v":0.35},{"t":"2014-07-10","v":0.3},{"t":"2014-07-14","v":0.3},{"t":"2014-07-16","v":0.38},{"t":"2014-07-19","v":0.3},{"t":"2014-07-21","v":0.24},{"t":"2014-07-26","v":0.3},{"t":"2014-07-30","v":0.22},{"t":"2014-08-03","v":0.19},{"t":"2014-08-08","v":0.22},{"t":"2014-08-11","v":0.22},{"t":"2014-08-16","v":0.22},{"t":"2014-08-20","v":0.24},{"t":"2014-08-23","v":0.3},{"t":"2014-08-25","v":0.22},{"t":"2014-08-28","v":0.19},{"t":"2014-09-02","v":0.1},{"t":"2014-09-07","v":0.08},{"t":"2014-09-09","v":0.16},{"t":"2014-09-12","v":0.11},{"t":"2014-09-19","v":0.11},{"t":"2014-09-25","v":0.05},{"t":"2014-09-30","v":0.04}],
"b_b": [{"t":"2013-10-01","v":0.01},{"t":"2013-11-03","v":0.01},{"t":"2013-11-11","v":0.04},{"t":"2013-11-16","v":0.06},{"t":"2013-11-18","v":0.1},{"t":"2013-11-21","v":0.2},{"t":"2013-11-23","v":0.3},{"t":"2013-11-26","v":0.33},{"t":"2013-11-28","v":0.3},{"t":"2013-12-04","v":0.24},{"t":"2013-12-08","v":0.2},{"t":"2013-12-11","v":0.15},{"t":"2013-12-16","v":0.17},{"t":"2013-12-24","v":0.18},{"t":"2013-12-29","v":0.2},{"t":"2014-01-03","v":0.18},{"t":"2014-01-11","v":0.19},{"t":"2014-01-16","v":0.23},{"t":"2014-01-18","v":0.22},{"t":"2014-01-23","v":0.18},{"t":"2014-02-03","v":0.12},{"t":"2014-02-07","v":0.09},{"t":"2014-02-14","v":0.15},{"t":"2014-02-19","v":0.18},{"t":"2014-02-24","v":0.17},{"t":"2014-02-28","v":0.14},{"t":"2014-03-06","v":0.16},{"t":"2014-03-11","v":0.17},{"t":"2014-03-16","v":0.13},{"t":"2014-03-26","v":0.12},{"t":"2014-04-05","v":0.11},{"t":"2014-04-10","v":0.12},{"t":"2014-04-14","v":0.08},{"t":"2014-04-23","v":0.05},{"t":"2014-04-30","v":0.05},{"t":"2014-05-02","v":0.15},{"t":"2014-05-04","v":0.12},{"t":"2014-05-07","v":0.08},{"t":"2014-05-11","v":0.2},{"t":"2014-05-13","v":0.22},{"t":"2014-05-16","v":0.1},{"t":"2014-05-21","v":0.05},{"t":"2014-05-29","v":0.03},{"t":"2014-06-06","v":0.05},{"t":"2014-06-11","v":0.06},{"t":"2014-06-18","v":0.06},{"t":"2014-06-21","v":0.05},{"t":"2014-06-23","v":0.3},{"t":"2014-06-24","v":0.32},{"t":"2014-06-27","v":0.2},{"t":"2014-06-29","v":0.55},{"t":"2014-07-01","v":0.58},{"t":"2014-07-02","v":0.5},{"t":"2014-07-04","v":0.45},{"t":"2014-07-06","v":0.35},{"t":"2014-07-11","v":0.3},{"t":"2014-07-15","v":0.32},{"t":"2014-07-18","v":0.28},{"t":"2014-07-22","v":0.26},{"t":"2014-07-24","v":0.28},{"t":"2014-07-27","v":0.32},{"t":"2014-07-29","v":0.26},{"t":"2014-08-01","v":0.25},{"t":"2014-08-03","v":0.2},{"t":"2014-08-07","v":0.2},{"t":"2014-08-11","v":0.2},{"t":"2014-08-16","v":0.22},{"t":"2014-08-20","v":0.26},{"t":"2014-08-23","v":0.28},{"t":"2014-08-27","v":0.25},{"t":"2014-08-29","v":0.22},{"t":"2014-09-02","v":0.12},{"t":"2014-09-06","v":0.06},{"t":"2014-09-10","v":0.08},{"t":"2014-09-12","v":0.12},{"t":"2014-09-16","v":0.08},{"t":"2014-09-21","v":0.04},{"t":"2014-09-30","v":0.03}],
"c_k": [{"t":"2013-10-01","v":0.02},{"t":"2013-10-08","v":0.05},{"t":"2013-10-16","v":0.05},{"t":"2013-10-21","v":0.045},{"t":"2013-10-26","v":0.04},{"t":"2013-10-31","v":0.1},{"t":"2013-11-03","v":0.18},{"t":"2013-11-05","v":0.34},{"t":"2013-11-08","v":0.61},{"t":"2013-11-09","v":0.8},{"t":"2013-11-11","v":0.72},{"t":"2013-11-13","v":0.83},{"t":"2013-11-15","v":0.94},{"t":"2013-11-18","v":1.1},{"t":"2013-11-20","v":1.38},{"t":"2013-11-22","v":1.97},{"t":"2013-11-23","v":2.05},{"t":"2013-11-24","v":2.03},{"t":"2013-11-25","v":2.1},{"t":"2013-11-26","v":2.16},{"t":"2013-11-27","v":2.33},{"t":"2013-11-28","v":2.22},{"t":"2013-11-29","v":2.14},{"t":"2013-11-30","v":1.76},{"t":"2013-12-02","v":1.43},{"t":"2013-12-03","v":1.48},{"t":"2013-12-04","v":1.4},{"t":"2013-12-06","v":1.21},{"t":"2013-12-08","v":1.05},{"t":"2013-12-09","v":1.05},{"t":"2013-12-11","v":1.32},{"t":"2013-12-13","v":1.48},{"t":"2013-12-15","v":1.5},{"t":"2013-12-17","v":1.46},{"t":"2013-12-19","v":1.48},{"t":"2013-12-20","v":1.65},{"t":"2013-12-21","v":1.6},{"t":"2013-12-23","v":1.48},{"t":"2013-12-25","v":1.54},{"t":"2013-12-27","v":1.65},{"t":"2013-12-28","v":1.81},{"t":"2013-12-29","v":1.76},{"t":"2013-12-31","v":1.59},{"t":"2014-01-03","v":1.48},{"t":"2014-01-05","v":1.4},{"t":"2014-01-07","v":1.43},{"t":"2014-01-09","v":1.57},{"t":"2014-01-11","v":1.54},{"t":"2014-01-12","v":1.52},{"t":"2014-01-14","v":1.59},{"t":"2014-01-16","v":1.7},{"t":"2014-01-18","v":2.03},{"t":"2014-01-19","v":1.98},{"t":"2014-01-20","v":1.76},{"t":"2014-01-22","v":1.38},{"t":"2014-01-24","v":1.27},{"t":"2014-01-26","v":1.1},{"t":"2014-01-28","v":1.05},{"t":"2014-01-31","v":0.99},{"t":"2014-02-02","v":0.83},{"t":"2014-02-04","v":0.83},{"t":"2014-02-05","v":0.78},{"t":"2014-02-07","v":0.67},{"t":"2014-02-08","v":0.83},{"t":"2014-02-10","v":1.05},{"t":"2014-02-12","v":1.38},{"t":"2014-02-14","v":1.62},{"t":"2014-02-16","v":1.67},{"t":"2014-02-18","v":1.59},{"t":"2014-02-20","v":1.51},{"t":"2014-02-22","v":1.59},{"t":"2014-02-23","v":1.48},{"t":"2014-02-25","v":1.21},{"t":"2014-02-28","v":1.05},{"t":"2014-03-02","v":0.89},{"t":"2014-03-03","v":0.8},{"t":"2014-03-04","v":1.16},{"t":"2014-03-06","v":1.38},{"t":"2014-03-08","v":1.43},{"t":"2014-03-10","v":1.41},{"t":"2014-03-12","v":1.51},{"t":"2014-03-13","v":1.48},{"t":"2014-03-15","v":1.21},{"t":"2014-03-17","v":0.99},{"t":"2014-03-20","v":0.8},{"t":"2014-03-23","v":0.75},{"t":"2014-03-27","v":0.72},{"t":"2014-03-29","v":0.67},{"t":"2014-03-31","v":0.64},{"t":"2014-04-03","v":0.56},{"t":"2014-04-05","v":0.72},{"t":"2014-04-09","v":0.89},{"t":"2014-04-11","v":0.89},{"t":"2014-04-14","v":0.8},{"t":"2014-04-16","v":0.4},{"t":"2014-04-17","v":0.18},{"t":"2014-04-20","v":0.32},{"t":"2014-04-22","v":0.26},{"t":"2014-04-25","v":0.13},{"t":"2014-04-29","v":0.1},{"t":"2014-05-01","v":0.12},{"t":"2014-05-03","v":1.05},{"t":"2014-05-04","v":1.1},{"t":"2014-05-05","v":0.9},{"t":"2014-05-06","v":0.72},{"t":"2014-05-07","v":0.56},{"t":"2014-05-09","v":0.5},{"t":"2014-05-10","v":0.55},{"t":"2014-05-12","v":0.86},{"t":"2014-05-13","v":0.75},{"t":"2014-05-15","v":0.72},{"t":"2014-05-17","v":0.5},{"t":"2014-05-19","v":0.23},{"t":"2014-05-21","v":0.1},{"t":"2014-05-25","v":0.07},{"t":"2014-05-28","v":0.05},{"t":"2014-05-31","v":0.02},{"t":"2014-06-02","v":0.18},{"t":"2014-06-04","v":0.37},{"t":"2014-06-06","v":0.21},{"t":"2014-06-08","v":0.15},{"t":"2014-06-10","v":0.18},{"t":"2014-06-15","v":0.26},{"t":"2014-06-20","v":0.29},{"t":"2014-06-23","v":0.26},{"t":"2014-06-25","v":0.12},{"t":"2014-06-29","v":0.08},{"t":"2014-07-02","v":0.07},{"t":"2014-07-04","v":0.4},{"t":"2014-07-07","v":0.45},{"t":"2014-07-09","v":0.4},{"t":"2014-07-11","v":0.5},{"t":"2014-07-13","v":0.53},{"t":"2014-07-14","v":0.34},{"t":"2014-07-16","v":0.2},{"t":"2014-07-17","v":0.5},{"t":"2014-07-19","v":0.48},{"t":"2014-07-21","v":0.34},{"t":"2014-07-24","v":0.29},{"t":"2014-07-27","v":0.45},{"t":"2014-07-29","v":0.42},{"t":"2014-07-31","v":0.45},{"t":"2014-08-03","v":0.34},{"t":"2014-08-05","v":0.37},{"t":"2014-08-08","v":0.31},{"t":"2014-08-10","v":0.34},{"t":"2014-08-14","v":0.31},{"t":"2014-08-17","v":0.34},{"t":"2014-08-20","v":0.4},{"t":"2014-08-24","v":0.35},{"t":"2014-08-27","v":0.29},{"t":"2014-08-29","v":0.18},{"t":"2014-09-02","v":0.04},{"t":"2014-09-06","v":0.07},{"t":"2014-09-09","v":0.29},{"t":"2014-09-11","v":0.26},{"t":"2014-09-15","v":0.19},{"t":"2014-09-19","v":0.21},{"t":"2014-09-21","v":0.12},{"t":"2014-09-25","v":0.04},{"t":"2014-09-30","v":0.03}],
"c_r": [{"t":"2013-10-01","v":0.01},{"t":"2013-10-21","v":0.03},{"t":"2013-10-31","v":0.04},{"t":"2013-11-04","v":0.12},{"t":"2013-11-07","v":0.26},{"t":"2013-11-09","v":0.34},{"t":"2013-11-12","v":0.37},{"t":"2013-11-15","v":0.42},{"t":"2013-11-18","v":0.5},{"t":"2013-11-20","v":0.61},{"t":"2013-11-23","v":0.78},{"t":"2013-11-26","v":0.83},{"t":"2013-11-27","v":0.85},{"t":"2013-11-28","v":0.82},{"t":"2013-12-01","v":0.7},{"t":"2013-12-03","v":0.56},{"t":"2013-12-06","v":0.53},{"t":"2013-12-08","v":0.46},{"t":"2013-12-11","v":0.61},{"t":"2013-12-13","v":0.64},{"t":"2013-12-16","v":0.62},{"t":"2013-12-18","v":0.67},{"t":"2013-12-21","v":0.69},{"t":"2013-12-23","v":0.67},{"t":"2013-12-27","v":0.75},{"t":"2013-12-30","v":0.7},{"t":"2014-01-03","v":0.64},{"t":"2014-01-05","v":0.67},{"t":"2014-01-10","v":0.67},{"t":"2014-01-13","v":0.72},{"t":"2014-01-15","v":0.8},{"t":"2014-01-17","v":0.72},{"t":"2014-01-21","v":0.61},{"t":"2014-01-26","v":0.5},{"t":"2014-01-31","v":0.42},{"t":"2014-02-05","v":0.35},{"t":"2014-02-07","v":0.39},{"t":"2014-02-11","v":0.61},{"t":"2014-02-14","v":0.68},{"t":"2014-02-17","v":0.67},{"t":"2014-02-19","v":0.63},{"t":"2014-02-22","v":0.66},{"t":"2014-02-26","v":0.53},{"t":"2014-03-01","v":0.42},{"t":"2014-03-04","v":0.48},{"t":"2014-03-06","v":0.56},{"t":"2014-03-09","v":0.59},{"t":"2014-03-13","v":0.63},{"t":"2014-03-15","v":0.5},{"t":"2014-03-20","v":0.34},{"t":"2014-03-28","v":0.29},{"t":"2014-04-05","v":0.24},{"t":"2014-04-10","v":0.34},{"t":"2014-04-14","v":0.32},{"t":"2014-04-17","v":0.18},{"t":"2014-04-20","v":0.12},{"t":"2014-04-27","v":0.09},{"t":"2014-05-01","v":0.07},{"t":"2014-05-03","v":0.34},{"t":"2014-05-05","v":0.26},{"t":"2014-05-10","v":0.2},{"t":"2014-05-12","v":0.32},{"t":"2014-05-14","v":0.23},{"t":"2014-05-18","v":0.1},{"t":"2014-05-23","v":0.04},{"t":"2014-05-31","v":0.02},{"t":"2014-06-04","v":0.07},{"t":"2014-06-07","v":0.06},{"t":"2014-06-20","v":0.07},{"t":"2014-06-30","v":0.04},{"t":"2014-07-02","v":0.1},{"t":"2014-07-03","v":0.3},{"t":"2014-07-05","v":0.22},{"t":"2014-07-09","v":0.1},{"t":"2014-07-13","v":0.15},{"t":"2014-07-18","v":0.1},{"t":"2014-07-26","v":0.08},{"t":"2014-07-29","v":0.12},{"t":"2014-08-02","v":0.08},{"t":"2014-08-10","v":0.05},{"t":"2014-08-22","v":0.05},{"t":"2014-08-27","v":0.07},{"t":"2014-09-05","v":0.03},{"t":"2014-09-17","v":0.02},{"t":"2014-09-30","v":0.01}],
"c_g": [{"t":"2013-10-01","v":0.01},{"t":"2013-11-02","v":0.03},{"t":"2013-11-06","v":0.15},{"t":"2013-11-09","v":0.25},{"t":"2013-11-13","v":0.27},{"t":"2013-11-18","v":0.35},{"t":"2013-11-20","v":0.45},{"t":"2013-11-23","v":0.6},{"t":"2013-11-27","v":0.66},{"t":"2013-11-29","v":0.6},{"t":"2013-12-03","v":0.45},{"t":"2013-12-08","v":0.35},{"t":"2013-12-11","v":0.45},{"t":"2013-12-16","v":0.47},{"t":"2013-12-21","v":0.5},{"t":"2013-12-27","v":0.55},{"t":"2013-12-31","v":0.5},{"t":"2014-01-05","v":0.48},{"t":"2014-01-12","v":0.5},{"t":"2014-01-15","v":0.6},{"t":"2014-01-19","v":0.5},{"t":"2014-01-26","v":0.38},{"t":"2014-01-31","v":0.33},{"t":"2014-02-05","v":0.25},{"t":"2014-02-10","v":0.38},{"t":"2014-02-14","v":0.5},{"t":"2014-02-18","v":0.48},{"t":"2014-02-22","v":0.5},{"t":"2014-02-26","v":0.4},{"t":"2014-03-02","v":0.3},{"t":"2014-03-08","v":0.43},{"t":"2014-03-13","v":0.47},{"t":"2014-03-16","v":0.38},{"t":"2014-03-23","v":0.27},{"t":"2014-04-02","v":0.22},{"t":"2014-04-10","v":0.27},{"t":"2014-04-14","v":0.26},{"t":"2014-04-17","v":0.15},{"t":"2014-04-27","v":0.07},{"t":"2014-05-02","v":0.05},{"t":"2014-05-04","v":0.3},{"t":"2014-05-07","v":0.22},{"t":"2014-05-13","v":0.2},{"t":"2014-05-18","v":0.05},{"t":"2014-05-23","v":0.03},{"t":"2014-06-03","v":0.05},{"t":"2014-06-07","v":0.08},{"t":"2014-06-20","v":0.1},{"t":"2014-06-28","v":0.07},{"t":"2014-07-03","v":0.15},{"t":"2014-07-11","v":0.25},{"t":"2014-07-14","v":0.3},{"t":"2014-07-18","v":0.25},{"t":"2014-07-23","v":0.22},{"t":"2014-07-29","v":0.25},{"t":"2014-08-03","v":0.2},{"t":"2014-08-08","v":0.18},{"t":"2014-08-14","v":0.17},{"t":"2014-08-20","v":0.22},{"t":"2014-08-25","v":0.2},{"t":"2014-09-02","v":0.1},{"t":"2014-09-07","v":0.03},{"t":"2014-09-11","v":0.07},{"t":"2014-09-17","v":0.06},{"t":"2014-09-30","v":0.01}],
"c_b": [{"t":"2013-10-01","v":0.01},{"t":"2013-11-05","v":0.01},{"t":"2013-11-15","v":0.05},{"t":"2013-11-23","v":0.1},{"t":"2013-11-26","v":0.2},{"t":"2013-11-27","v":0.3},{"t":"2013-11-29","v":0.42},{"t":"2013-12-02","v":0.38},{"t":"2013-12-06","v":0.32},{"t":"2013-12-10","v":0.28},{"t":"2013-12-16","v":0.3},{"t":"2013-12-22","v":0.32},{"t":"2013-12-28","v":0.34},{"t":"2014-01-05","v":0.3},{"t":"2014-01-13","v":0.32},{"t":"2014-01-17","v":0.36},{"t":"2014-01-21","v":0.32},{"t":"2014-01-31","v":0.22},{"t":"2014-02-06","v":0.17},{"t":"2014-02-13","v":0.27},{"t":"2014-02-18","v":0.29},{"t":"2014-02-23","v":0.28},{"t":"2014-03-01","v":0.22},{"t":"2014-03-08","v":0.26},{"t":"2014-03-13","v":0.28},{"t":"2014-03-20","v":0.2},{"t":"2014-03-31","v":0.17},{"t":"2014-04-10","v":0.16},{"t":"2014-04-17","v":0.08},{"t":"2014-04-27","v":0.05},{"t":"2014-05-03","v":0.04},{"t":"2014-05-05","v":0.15},{"t":"2014-05-08","v":0.12},{"t":"2014-05-13","v":0.2},{"t":"2014-05-15","v":0.15},{"t":"2014-05-19","v":0.05},{"t":"2014-05-26","v":0.04},{"t":"2014-06-07","v":0.04},{"t":"2014-06-20","v":0.05},{"t":"2014-06-23","v":0.01},{"t":"2014-06-27","v":0.05},{"t":"2014-06-30","v":0.07},{"t":"2014-07-03","v":0.28},{"t":"2014-07-07","v":0.22},{"t":"2014-07-09","v":0.12},{"t":"2014-07-12","v":0.25},{"t":"2014-07-14","v":0.22},{"t":"2014-07-18","v":0.15},{"t":"2014-07-23","v":0.2},{"t":"2014-07-29","v":0.22},{"t":"2014-08-03","v":0.17},{"t":"2014-08-08","v":0.15},{"t":"2014-08-13","v":0.15},{"t":"2014-08-20","v":0.26},{"t":"2014-08-25","v":0.2},{"t":"2014-08-31","v":0.12},{"t":"2014-09-05","v":0.04},{"t":"2014-09-09","v":0.1},{"t":"2014-09-13","v":0.1},{"t":"2014-09-17","v":0.1},{"t":"2014-09-22","v":0.04},{"t":"2014-09-30","v":0.02}],
"d_k": [{"t":"2013-10-01","v":0.0},{"t":"2013-10-19","v":0.02},{"t":"2013-10-29","v":0.03},{"t":"2013-11-04","v":0.07},{"t":"2013-11-08","v":0.18},{"t":"2013-11-13","v":0.29},{"t":"2013-11-18","v":0.42},{"t":"2013-11-22","v":0.67},{"t":"2013-11-26","v":0.99},{"t":"2013-11-29","v":1.1},{"t":"2013-12-01","v":1.15},{"t":"2013-12-04","v":1.05},{"t":"2013-12-07","v":0.97},{"t":"2013-12-09","v":0.86},{"t":"2013-12-11","v":0.83},{"t":"2013-12-14","v":0.91},{"t":"2013-12-16","v":0.93},{"t":"2013-12-19","v":0.97},{"t":"2013-12-24","v":0.98},{"t":"2013-12-27","v":1.02},{"t":"2013-12-31","v":1.06},{"t":"2014-01-04","v":1.0},{"t":"2014-01-07","v":0.94},{"t":"2014-01-11","v":0.97},{"t":"2014-01-15","v":0.98},{"t":"2014-01-19","v":1.13},{"t":"2014-01-21","v":1.08},{"t":"2014-01-26","v":0.89},{"t":"2014-01-30","v":0.8},{"t":"2014-02-03","v":0.75},{"t":"2014-02-08","v":0.61},{"t":"2014-02-10","v":0.67},{"t":"2014-02-14","v":0.91},{"t":"2014-02-18","v":0.94},{"t":"2014-02-22","v":0.89},{"t":"2014-02-26","v":0.72},{"t":"2014-03-01","v":0.8},{"t":"2014-03-04","v":0.83},{"t":"2014-03-12","v":0.9},{"t":"2014-03-16","v":0.78},{"t":"2014-03-21","v":0.61},{"t":"2014-03-28","v":0.51},{"t":"2014-04-05","v":0.45},{"t":"2014-04-10","v":0.53},{"t":"2014-04-14","v":0.5},{"t":"2014-04-17","v":0.32},{"t":"2014-04-21","v":0.26},{"t":"2014-04-26","v":0.15},{"t":"2014-05-02","v":0.1},{"t":"2014-05-04","v":0.28},{"t":"2014-05-07","v":0.25},{"t":"2014-05-10","v":0.27},{"t":"2014-05-14","v":0.33},{"t":"2014-05-17","v":0.26},{"t":"2014-05-21","v":0.12},{"t":"2014-05-26","v":0.04},{"t":"2014-05-29","v":0.02},{"t":"2014-06-03","v":0.1},{"t":"2014-06-05","v":0.07},{"t":"2014-06-10","v":0.1},{"t":"2014-06-15","v":0.12},{"t":"2014-06-20","v":0.07},{"t":"2014-07-01","v":0.03},{"t":"2014-07-13","v":0.03},{"t":"2014-07-15","v":0.05},{"t":"2014-07-17","v":0.02},{"t":"2014-08-01","v":0.02},{"t":"2014-08-15","v":0.03},{"t":"2014-08-26","v":0.05},{"t":"2014-09-08","v":0.045},{"t":"2014-09-30","v":0.04}],
"d_r": [{"t":"2013-10-01","v":0.0},{"t":"2013-10-29","v":0.01},{"t":"2013-11-03","v":0.04},{"t":"2013-11-11","v":0.15},{"t":"2013-11-18","v":0.27},{"t":"2013-11-24","v":0.5},{"t":"2013-11-30","v":0.6},{"t":"2013-12-04","v":0.55},{"t":"2013-12-09","v":0.48},{"t":"2013-12-14","v":0.52},{"t":"2013-12-19","v":0.55},{"t":"2013-12-24","v":0.58},{"t":"2013-12-29","v":0.6},{"t":"2014-01-03","v":0.57},{"t":"2014-01-08","v":0.58},{"t":"2014-01-13","v":0.6},{"t":"2014-01-16","v":0.65},{"t":"2014-01-20","v":0.58},{"t":"2014-01-26","v":0.48},{"t":"2014-02-05","v":0.4},{"t":"2014-02-09","v":0.42},{"t":"2014-02-14","v":0.53},{"t":"2014-02-20","v":0.55},{"t":"2014-02-28","v":0.45},{"t":"2014-03-06","v":0.5},{"t":"2014-03-13","v":0.54},{"t":"2014-03-21","v":0.44},{"t":"2014-03-29","v":0.38},{"t":"2014-04-08","v":0.32},{"t":"2014-04-15","v":0.34},{"t":"2014-04-20","v":0.25},{"t":"2014-04-26","v":0.2},{"t":"2014-05-01","v":0.15},{"t":"2014-05-06","v":0.15},{"t":"2014-05-11","v":0.14},{"t":"2014-05-16","v":0.1},{"t":"2014-05-21","v":0.05},{"t":"2014-05-31","v":0.04},{"t":"2014-07-01","v":0.03},{"t":"2014-08-01","v":0.02},{"t":"2014-09-30","v":0.02}],
"d_g": [{"t":"2013-10-01","v":0.0},{"t":"2013-11-03","v":0.02},{"t":"2013-11-13","v":0.1},{"t":"2013-11-21","v":0.2},{"t":"2013-11-26","v":0.35},{"t":"2013-11-30","v":0.43},{"t":"2013-12-04","v":0.42},{"t":"2013-12-09","v":0.36},{"t":"2013-12-14","v":0.39},{"t":"2013-12-19","v":0.41},{"t":"2013-12-24","v":0.43},{"t":"2013-12-29","v":0.45},{"t":"2014-01-03","v":0.44},{"t":"2014-01-08","v":0.44},{"t":"2014-01-15","v":0.49},{"t":"2014-01-21","v":0.44},{"t":"2014-01-29","v":0.37},{"t":"2014-02-05","v":0.33},{"t":"2014-02-10","v":0.34},{"t":"2014-02-14","v":0.41},{"t":"2014-02-20","v":0.43},{"t":"2014-02-28","v":0.37},{"t":"2014-03-08","v":0.4},{"t":"2014-03-13","v":0.41},{"t":"2014-03-21","v":0.35},{"t":"2014-04-03","v":0.28},{"t":"2014-04-12","v":0.27},{"t":"2014-04-17","v":0.2},{"t":"2014-04-25","v":0.15},{"t":"2014-05-01","v":0.12},{"t":"2014-05-09","v":0.1},{"t":"2014-05-14","v":0.12},{"t":"2014-05-21","v":0.05},{"t":"2014-05-31","v":0.04},{"t":"2014-07-01","v":0.02},{"t":"2014-09-30","v":0.01}],
"d_b": [{"t":"2013-10-01","v":0.0},{"t":"2013-11-05","v":0.01},{"t":"2013-11-13","v":0.04},{"t":"2013-11-22","v":0.1},{"t":"2013-11-26","v":0.25},{"t":"2013-11-30","v":0.35},{"t":"2013-12-06","v":0.34},{"t":"2013-12-14","v":0.34},{"t":"2013-12-24","v":0.35},{"t":"2013-12-29","v":0.36},{"t":"2014-01-08","v":0.34},{"t":"2014-01-15","v":0.37},{"t":"2014-01-21","v":0.33},{"t":"2014-01-31","v":0.27},{"t":"2014-02-08","v":0.23},{"t":"2014-02-14","v":0.29},{"t":"2014-02-20","v":0.31},{"t":"2014-02-28","v":0.27},{"t":"2014-03-11","v":0.29},{"t":"2014-03-21","v":0.24},{"t":"2014-04-02","v":0.2},{"t":"2014-04-12","v":0.19},{"t":"2014-04-23","v":0.13},{"t":"2014-05-01","v":0.1},{"t":"2014-05-06","v":0.08},{"t":"2014-05-14","v":0.11},{"t":"2014-05-21","v":0.05},{"t":"2014-05-31","v":0.03},{"t":"2014-07-01","v":0.02},{"t":"2014-09-30","v":0.01}]
},
"vconcat": [
{"hconcat": [
{"width": 549, "height": 246, "title": {"text": "(a) Depth = 5 cm"},
 "layer": [
  {"data": {"name": "a_k"}, "mark": {"type": "line", "strokeOpacity": 0}, "encoding": {"x": {"field": "t", "type": "temporal", "scale": {"type": "utc", "domain": [{"year": 2013, "month": 10, "date": 1, "utc": true}, {"year": 2014, "month": 9, "date": 30, "utc": true}]}, "axis": {"orient": "top", "labels": false, "title": null, "values": [{"year":2013,"month":10,"date":15,"utc":true},{"year":2013,"month":11,"date":15,"utc":true},{"year":2013,"month":12,"date":15,"utc":true},{"year":2014,"month":1,"date":15,"utc":true},{"year":2014,"month":2,"date":15,"utc":true},{"year":2014,"month":3,"date":15,"utc":true},{"year":2014,"month":4,"date":15,"utc":true},{"year":2014,"month":5,"date":15,"utc":true},{"year":2014,"month":6,"date":15,"utc":true},{"year":2014,"month":7,"date":15,"utc":true},{"year":2014,"month":8,"date":15,"utc":true},{"year":2014,"month":9,"date":15,"utc":true}]}}, "y": {"field": "v", "type": "quantitative", "scale": {"domain": [0, 4], "nice": false}, "axis": {"orient": "right", "labels": false, "title": null, "values": [0,0.5,1,1.5,2,2.5,3,3.5,4]}}}},
  {"data": {"name": "a_r"}, "mark": {"type": "line", "color": "#ff0000"}, "encoding": {"x": {"field": "t", "type": "temporal", "axis": {"orient": "bottom", "format": "%b", "labelPadding": 7, "title": "Time [Oct. 1, 2013 - Sept. 30, 2014]", "titlePadding": 5, "values": [{"year":2013,"month":10,"date":15,"utc":true},{"year":2013,"month":11,"date":15,"utc":true},{"year":2013,"month":12,"date":15,"utc":true},{"year":2014,"month":1,"date":15,"utc":true},{"year":2014,"month":2,"date":15,"utc":true},{"year":2014,"month":3,"date":15,"utc":true},{"year":2014,"month":4,"date":15,"utc":true},{"year":2014,"month":5,"date":15,"utc":true},{"year":2014,"month":6,"date":15,"utc":true},{"year":2014,"month":7,"date":15,"utc":true},{"year":2014,"month":8,"date":15,"utc":true},{"year":2014,"month":9,"date":15,"utc":true}]}}, "y": {"field": "v", "type": "quantitative", "axis": {"orient": "left", "format": ".1f", "labelPadding": 8, "title": "Temperature [C]", "titlePadding": 5, "values": [0,0.5,1,1.5,2,2.5,3,3.5,4]}}}},
  {"data": {"name": "a_g"}, "mark": {"type": "line", "color": "#008000"}, "encoding": {"x": {"field": "t", "type": "temporal", "axis": null}, "y": {"field": "v", "type": "quantitative", "axis": null}}},
  {"data": {"name": "a_b"}, "mark": {"type": "line", "color": "#0000ff"}, "encoding": {"x": {"field": "t", "type": "temporal", "axis": null}, "y": {"field": "v", "type": "quantitative", "axis": null}}},
  {"data": {"name": "a_k"}, "mark": {"type": "line", "color": "#000000"}, "encoding": {"x": {"field": "t", "type": "temporal", "axis": null}, "y": {"field": "v", "type": "quantitative", "axis": null}}}
 ],
 "resolve": {"axis": {"x": "independent", "y": "independent"}}},
{"width": 549, "height": 246, "title": {"text": "(b) Depth = 10 cm"},
 "layer": [
  {"data": {"name": "b_k"}, "mark": {"type": "line", "strokeOpacity": 0}, "encoding": {"x": {"field": "t", "type": "temporal", "scale": {"type": "utc", "domain": [{"year": 2013, "month": 10, "date": 1, "utc": true}, {"year": 2014, "month": 9, "date": 30, "utc": true}]}, "axis": {"orient": "top", "labels": false, "title": null, "values": [{"year":2013,"month":10,"date":15,"utc":true},{"year":2013,"month":11,"date":15,"utc":true},{"year":2013,"month":12,"date":15,"utc":true},{"year":2014,"month":1,"date":15,"utc":true},{"year":2014,"month":2,"date":15,"utc":true},{"year":2014,"month":3,"date":15,"utc":true},{"year":2014,"month":4,"date":15,"utc":true},{"year":2014,"month":5,"date":15,"utc":true},{"year":2014,"month":6,"date":15,"utc":true},{"year":2014,"month":7,"date":15,"utc":true},{"year":2014,"month":8,"date":15,"utc":true},{"year":2014,"month":9,"date":15,"utc":true}]}}, "y": {"field": "v", "type": "quantitative", "scale": {"domain": [0, 4], "nice": false}, "axis": {"orient": "right", "labels": false, "title": null, "values": [0,0.5,1,1.5,2,2.5,3,3.5,4]}}}},
  {"data": {"name": "b_r"}, "mark": {"type": "line", "color": "#ff0000"}, "encoding": {"x": {"field": "t", "type": "temporal", "axis": {"orient": "bottom", "format": "%b", "labelPadding": 7, "title": "Time [Oct. 1, 2013 - Sept. 30, 2014]", "titlePadding": 5, "values": [{"year":2013,"month":10,"date":15,"utc":true},{"year":2013,"month":11,"date":15,"utc":true},{"year":2013,"month":12,"date":15,"utc":true},{"year":2014,"month":1,"date":15,"utc":true},{"year":2014,"month":2,"date":15,"utc":true},{"year":2014,"month":3,"date":15,"utc":true},{"year":2014,"month":4,"date":15,"utc":true},{"year":2014,"month":5,"date":15,"utc":true},{"year":2014,"month":6,"date":15,"utc":true},{"year":2014,"month":7,"date":15,"utc":true},{"year":2014,"month":8,"date":15,"utc":true},{"year":2014,"month":9,"date":15,"utc":true}]}}, "y": {"field": "v", "type": "quantitative", "axis": {"orient": "left", "format": ".1f", "labelPadding": 8, "title": "Temperature [C]", "titlePadding": 5, "values": [0,0.5,1,1.5,2,2.5,3,3.5,4]}}}},
  {"data": {"name": "b_g"}, "mark": {"type": "line", "color": "#008000"}, "encoding": {"x": {"field": "t", "type": "temporal", "axis": null}, "y": {"field": "v", "type": "quantitative", "axis": null}}},
  {"data": {"name": "b_b"}, "mark": {"type": "line", "color": "#0000ff"}, "encoding": {"x": {"field": "t", "type": "temporal", "axis": null}, "y": {"field": "v", "type": "quantitative", "axis": null}}},
  {"data": {"name": "b_k"}, "mark": {"type": "line", "color": "#000000"}, "encoding": {"x": {"field": "t", "type": "temporal", "axis": null}, "y": {"field": "v", "type": "quantitative", "axis": null}}}
 ],
 "resolve": {"axis": {"x": "independent", "y": "independent"}}}
], "spacing": 7},
{"hconcat": [
{"width": 549, "height": 246, "title": {"text": "(c) Depth = 50 cm"},
 "layer": [
  {"data": {"name": "c_k"}, "mark": {"type": "line", "strokeOpacity": 0}, "encoding": {"x": {"field": "t", "type": "temporal", "scale": {"type": "utc", "domain": [{"year": 2013, "month": 10, "date": 1, "utc": true}, {"year": 2014, "month": 9, "date": 30, "utc": true}]}, "axis": {"orient": "top", "labels": false, "title": null, "values": [{"year":2013,"month":10,"date":15,"utc":true},{"year":2013,"month":11,"date":15,"utc":true},{"year":2013,"month":12,"date":15,"utc":true},{"year":2014,"month":1,"date":15,"utc":true},{"year":2014,"month":2,"date":15,"utc":true},{"year":2014,"month":3,"date":15,"utc":true},{"year":2014,"month":4,"date":15,"utc":true},{"year":2014,"month":5,"date":15,"utc":true},{"year":2014,"month":6,"date":15,"utc":true},{"year":2014,"month":7,"date":15,"utc":true},{"year":2014,"month":8,"date":15,"utc":true},{"year":2014,"month":9,"date":15,"utc":true}]}}, "y": {"field": "v", "type": "quantitative", "scale": {"domain": [0, 4], "nice": false}, "axis": {"orient": "right", "labels": false, "title": null, "values": [0,0.5,1,1.5,2,2.5,3,3.5,4]}}}},
  {"data": {"name": "c_r"}, "mark": {"type": "line", "color": "#ff0000"}, "encoding": {"x": {"field": "t", "type": "temporal", "axis": {"orient": "bottom", "format": "%b", "labelPadding": 7, "title": "Time [Oct. 1, 2013 - Sept. 30, 2014]", "titlePadding": 5, "values": [{"year":2013,"month":10,"date":15,"utc":true},{"year":2013,"month":11,"date":15,"utc":true},{"year":2013,"month":12,"date":15,"utc":true},{"year":2014,"month":1,"date":15,"utc":true},{"year":2014,"month":2,"date":15,"utc":true},{"year":2014,"month":3,"date":15,"utc":true},{"year":2014,"month":4,"date":15,"utc":true},{"year":2014,"month":5,"date":15,"utc":true},{"year":2014,"month":6,"date":15,"utc":true},{"year":2014,"month":7,"date":15,"utc":true},{"year":2014,"month":8,"date":15,"utc":true},{"year":2014,"month":9,"date":15,"utc":true}]}}, "y": {"field": "v", "type": "quantitative", "axis": {"orient": "left", "format": ".1f", "labelPadding": 8, "title": "Temperature [C]", "titlePadding": 5, "values": [0,0.5,1,1.5,2,2.5,3,3.5,4]}}}},
  {"data": {"name": "c_g"}, "mark": {"type": "line", "color": "#008000"}, "encoding": {"x": {"field": "t", "type": "temporal", "axis": null}, "y": {"field": "v", "type": "quantitative", "axis": null}}},
  {"data": {"name": "c_b"}, "mark": {"type": "line", "color": "#0000ff"}, "encoding": {"x": {"field": "t", "type": "temporal", "axis": null}, "y": {"field": "v", "type": "quantitative", "axis": null}}},
  {"data": {"name": "c_k"}, "mark": {"type": "line", "color": "#000000"}, "encoding": {"x": {"field": "t", "type": "temporal", "axis": null}, "y": {"field": "v", "type": "quantitative", "axis": null}}}
 ],
 "resolve": {"axis": {"x": "independent", "y": "independent"}}},
{"width": 549, "height": 246, "title": {"text": "(d) Depth = 150 cm"},
 "layer": [
  {"data": {"name": "d_k"}, "mark": {"type": "line", "strokeOpacity": 0}, "encoding": {"x": {"field": "t", "type": "temporal", "scale": {"type": "utc", "domain": [{"year": 2013, "month": 10, "date": 1, "utc": true}, {"year": 2014, "month": 9, "date": 30, "utc": true}]}, "axis": {"orient": "top", "labels": false, "title": null, "values": [{"year":2013,"month":10,"date":15,"utc":true},{"year":2013,"month":11,"date":15,"utc":true},{"year":2013,"month":12,"date":15,"utc":true},{"year":2014,"month":1,"date":15,"utc":true},{"year":2014,"month":2,"date":15,"utc":true},{"year":2014,"month":3,"date":15,"utc":true},{"year":2014,"month":4,"date":15,"utc":true},{"year":2014,"month":5,"date":15,"utc":true},{"year":2014,"month":6,"date":15,"utc":true},{"year":2014,"month":7,"date":15,"utc":true},{"year":2014,"month":8,"date":15,"utc":true},{"year":2014,"month":9,"date":15,"utc":true}]}}, "y": {"field": "v", "type": "quantitative", "scale": {"domain": [0, 4], "nice": false}, "axis": {"orient": "right", "labels": false, "title": null, "values": [0,0.5,1,1.5,2,2.5,3,3.5,4]}}}},
  {"data": {"name": "d_r"}, "mark": {"type": "line", "color": "#ff0000"}, "encoding": {"x": {"field": "t", "type": "temporal", "axis": {"orient": "bottom", "format": "%b", "labelPadding": 7, "title": "Time [Oct. 1, 2013 - Sept. 30, 2014]", "titlePadding": 5, "values": [{"year":2013,"month":10,"date":15,"utc":true},{"year":2013,"month":11,"date":15,"utc":true},{"year":2013,"month":12,"date":15,"utc":true},{"year":2014,"month":1,"date":15,"utc":true},{"year":2014,"month":2,"date":15,"utc":true},{"year":2014,"month":3,"date":15,"utc":true},{"year":2014,"month":4,"date":15,"utc":true},{"year":2014,"month":5,"date":15,"utc":true},{"year":2014,"month":6,"date":15,"utc":true},{"year":2014,"month":7,"date":15,"utc":true},{"year":2014,"month":8,"date":15,"utc":true},{"year":2014,"month":9,"date":15,"utc":true}]}}, "y": {"field": "v", "type": "quantitative", "axis": {"orient": "left", "format": ".1f", "labelPadding": 8, "title": "Temperature [C]", "titlePadding": 5, "values": [0,0.5,1,1.5,2,2.5,3,3.5,4]}}}},
  {"data": {"name": "d_g"}, "mark": {"type": "line", "color": "#008000"}, "encoding": {"x": {"field": "t", "type": "temporal", "axis": null}, "y": {"field": "v", "type": "quantitative", "axis": null}}},
  {"data": {"name": "d_b"}, "mark": {"type": "line", "color": "#0000ff"}, "encoding": {"x": {"field": "t", "type": "temporal", "axis": null}, "y": {"field": "v", "type": "quantitative", "axis": null}}},
  {"data": {"name": "d_k"}, "mark": {"type": "line", "color": "#000000"}, "encoding": {"x": {"field": "t", "type": "temporal", "axis": null}, "y": {"field": "v", "type": "quantitative", "axis": null}}}
 ],
 "resolve": {"axis": {"x": "independent", "y": "independent"}}}
], "spacing": 7}
],
"spacing": 44
}
